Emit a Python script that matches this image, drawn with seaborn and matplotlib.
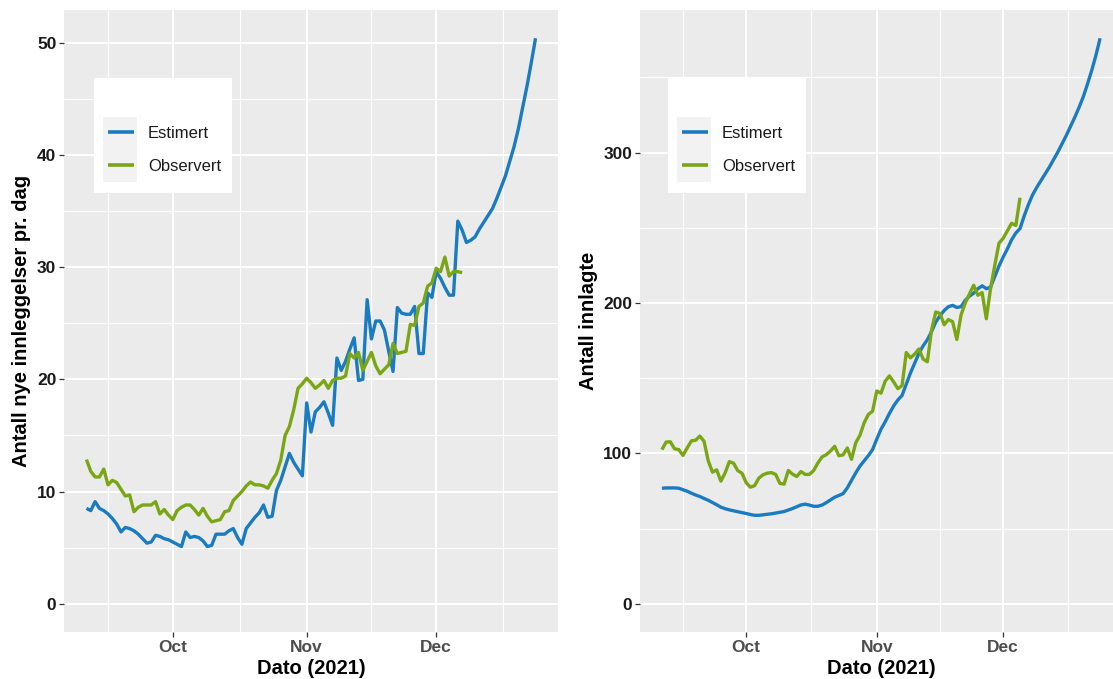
import matplotlib
matplotlib.use("Agg")
import numpy as np
import pandas as pd
import matplotlib.pyplot as plt
import matplotlib.dates as mdates
from matplotlib.patches import Rectangle
from matplotlib.ticker import FixedLocator
import seaborn as sns

# ---- data -------------------------------------------------------------
start_dato = "2021-09-11"
serier = ["Estimert", "Observert"]
farger = ["#1b7bbf", "#7aa616"]

# new hospital admissions per day
nye_estimert = [
    8.5, 8.3, 9.1, 8.5, 8.3, 8.0, 7.6, 7.1, 6.4, 6.8,
    6.7, 6.5, 6.2, 5.8, 5.4, 5.5, 6.1, 6.0, 5.8, 5.7,
    5.5, 5.3, 5.1, 6.4, 5.9, 6.0, 5.9, 5.6, 5.1, 5.2,
    6.2, 6.2, 6.2, 6.5, 6.7, 5.9, 5.3, 6.7, 7.2, 7.7,
    8.1, 8.8, 7.7, 7.8, 10.1, 11.0, 12.2, 13.4, 12.6, 12.0,
    11.4, 17.9, 15.3, 17.1, 17.5, 18.0, 17.0, 15.9, 21.9, 20.8,
    21.6, 22.7, 23.7, 19.9, 20.0, 27.1, 23.6, 25.2, 25.2, 24.4,
    22.5, 20.7, 26.4, 25.9, 25.8, 25.8, 26.5, 22.3, 22.3, 27.7,
    27.3, 29.6, 29.0, 28.2, 27.5, 27.5, 34.1, 33.3, 32.2, 32.4,
    32.7, 33.4, 34.0, 34.6, 35.2, 36.1, 37.1, 38.1, 39.4, 40.7,
    42.3, 44.2, 46.1, 48.2, 50.4,
]
nye_observert = [
    12.85, 11.8, 11.3, 11.3, 12.0, 10.6, 11.0, 10.8, 10.2, 9.6,
    9.7, 8.2, 8.6, 8.8, 8.8, 8.8, 9.1, 8.0, 8.4, 7.9,
    7.5, 8.3, 8.6, 8.8, 8.8, 8.4, 7.9, 8.5, 7.8, 7.3,
    7.4, 7.5, 8.2, 8.3, 9.2, 9.6, 10.0, 10.5, 10.85, 10.6,
    10.6, 10.5, 10.3, 11.0, 11.6, 12.8, 15.0, 15.8, 17.3, 19.2,
    19.6, 20.1, 19.7, 19.2, 19.5, 19.9, 19.2, 19.9, 20.1, 20.1,
    20.3, 22.3, 21.9, 22.4, 20.8, 21.6, 22.4, 21.2, 20.5, 20.9,
    21.3, 23.2, 22.3, 22.4, 22.5, 24.9, 24.8, 26.5, 26.8, 28.3,
    28.6, 29.9, 29.6, 30.9, 29.2, 29.6, 29.6, 29.5,
]

# patients in hospital
innlagte_estimert = [
    76.8, 77.0, 77.0, 77.0, 76.8, 75.8, 74.8, 73.5, 72.3, 71.3,
    70.0, 68.8, 67.3, 65.8, 64.2, 63.2, 62.4, 61.8, 61.2, 60.6,
    60.0, 59.3, 58.8, 58.8, 59.1, 59.5, 59.8, 60.3, 60.8, 61.3,
    62.3, 63.3, 64.5, 65.7, 66.2, 65.6, 64.8, 64.8, 65.6, 67.2,
    69.0, 70.8, 72.0, 73.2, 77.0, 82.0, 87.0, 91.5, 95.0, 98.5,
    102.5, 109.5, 116.0, 121.0, 126.5, 131.5, 135.5, 138.5, 146.0, 153.5,
    160.0, 166.5, 171.5, 175.5, 181.0, 187.3, 191.5, 195.0, 197.5, 198.4,
    197.0, 197.5, 201.8, 204.5, 206.5, 209.5, 211.4, 209.5, 210.5, 217.5,
    224.5, 230.5, 236.0, 242.0, 246.5, 249.5, 258.0, 265.5, 272.0, 277.0,
    281.5, 286.0, 290.5, 295.5, 300.5, 306.0, 311.5, 317.5, 323.5, 330.0,
    337.0, 345.5, 354.5, 364.5, 376.0,
]
innlagte_observert = [
    102.5, 107.5, 107.7, 103.0, 102.5, 98.6, 103.6, 108.3, 108.7, 111.5,
    108.0, 95.0, 87.5, 89.0, 81.5, 87.0, 94.5, 93.5, 88.5, 86.8,
    80.5, 77.5, 78.5, 83.5, 85.8, 86.8, 87.2, 86.0, 80.0, 79.5,
    88.6, 86.2, 84.6, 87.9, 86.0, 86.0, 88.5, 93.5, 97.6, 99.1,
    101.5, 104.7, 98.4, 99.0, 103.6, 96.0, 107.0, 112.0, 120.3, 125.9,
    128.0, 141.5, 140.0, 148.0, 151.5, 147.5, 143.0, 145.0, 167.0, 163.5,
    166.0, 169.4, 162.7, 160.9, 182.0, 194.0, 193.0, 185.5, 189.0, 187.5,
    175.7, 192.0, 200.0, 206.0, 211.8, 205.1, 206.9, 189.5, 209.6, 225.0,
    239.7, 243.0, 248.0, 253.0, 251.5, 270.0,
]

x_tittel = "Dato (2021)"
y_titler = ["Antall nye innleggelser pr. dag", "Antall innlagte"]
y_brudd = [np.arange(0, 51, 10), np.arange(0, 301, 100)]


def lag_tabell(estimert, observert):
    deler = []
    for navn, verdier in zip(serier, [estimert, observert]):
        datoer = pd.date_range(start_dato, periods=len(verdier), freq="D")
        deler.append(pd.DataFrame({"dato": datoer, "verdi": verdier, "serie": navn}))
    return pd.concat(deler, ignore_index=True)


tabeller = [lag_tabell(nye_estimert, nye_observert),
            lag_tabell(innlagte_estimert, innlagte_observert)]

# ---- style --------------------------------------------------------------
sns.set_theme(style="darkgrid")
plt.rcParams["font.family"] = ["Liberation Sans", "DejaVu Sans"]
plt.rcParams["axes.facecolor"] = "#EBEBEB"

W, H = 1113, 679
fig = plt.figure(figsize=(W / 100, H / 100), dpi=100)
fig.patch.set_facecolor("white")

# panel rectangles in pixels: left, top, right, bottom
paneler = [(64, 10, 558, 632), (640, 10, 1122, 632)]

for i, (df, (l, t, r, b)) in enumerate(zip(tabeller, paneler)):
    ax = fig.add_axes([l / W, 1 - b / H, (r - l) / W, (b - t) / H])
    sns.lineplot(data=df, x="dato", y="verdi", hue="serie", hue_order=serier,
                 palette=farger, linewidth=2.4, ax=ax, estimator=None)
    for ln in ax.get_lines():
        ln.set_solid_joinstyle("round")
        ln.set_solid_capstyle("butt")

    # ggplot-like expansion of 5 % on both axes
    d0 = mdates.date2num(df["dato"].min())
    d1 = mdates.date2num(df["dato"].max())
    dx = 0.05 * (d1 - d0)
    ax.set_xlim(d0 - dx, d1 + dx)
    ymax = df["verdi"].max()
    ax.set_ylim(-0.05 * ymax, ymax * 1.05)

    # axes: major month ticks, minor grid halfway
    maaneder = pd.date_range("2021-09-01", "2022-01-01", freq="MS")
    mnum = mdates.date2num(maaneder)
    ax.xaxis.set_major_locator(mdates.MonthLocator())
    ax.xaxis.set_major_formatter(mdates.DateFormatter("%b"))
    ax.xaxis.set_minor_locator(FixedLocator((mnum[:-1] + mnum[1:]) / 2))
    yb = y_brudd[i]
    ax.set_yticks(yb)
    step = yb[1] - yb[0]
    ax.yaxis.set_minor_locator(FixedLocator(np.arange(step / 2, ymax * 1.05, step)))

    ax.grid(which="major", color="white", linewidth=1.5)
    ax.grid(which="minor", color="white", linewidth=0.8)
    ax.set_axisbelow(True)
    for s in ax.spines.values():
        s.set_visible(False)

    ax.tick_params(which="major", bottom=True, left=True, length=3.5, width=0.9,
                   color="#333333", labelsize=12.5, pad=2)
    ax.tick_params(which="minor", bottom=False, left=False, length=0)
    for lab in ax.get_xticklabels():
        lab.set_fontweight("bold")
        lab.set_color("#4D4D4D")
    for lab in ax.get_yticklabels():
        lab.set_fontweight("bold")
        lab.set_color("#1A1A1A")

    ax.set_xlabel(x_tittel, fontsize=14.5, fontweight="bold", color="black", labelpad=3)
    ax.set_ylabel(y_titler[i], fontsize=14.5, fontweight="bold", color="black", labelpad=4)

    # legend: white box with grey key area, empty title line on top
    pw, ph = r - l, b - t
    boks_l = (94.3 if i == 0 else 667.7)
    boks_r = (232.3 if i == 0 else 806.0)
    key_l = (103 if i == 0 else 677)
    ax.add_patch(Rectangle(((boks_l - l) / pw, 1 - (192.7 - t) / ph),
                           (boks_r - boks_l) / pw, (192.7 - 77.7) / ph,
                           transform=ax.transAxes, facecolor="white",
                           edgecolor="none", zorder=4))
    ax.add_patch(Rectangle(((key_l - l) / pw, 1 - (182 - t) / ph),
                           34 / pw, 65 / ph,
                           transform=ax.transAxes, facecolor="#F2F2F2",
                           edgecolor="none", zorder=4.1))
    handles, labels = ax.get_legend_handles_labels()
    leg = ax.legend(handles, labels, loc="upper left",
                    bbox_to_anchor=((key_l + 5 - l) / pw, 1 - (126 - t) / ph),
                    frameon=False, fontsize=12, handlelength=1.55,
                    handletextpad=0.85, labelspacing=1.1,
                    borderpad=0, borderaxespad=0, title=None)
    for txt in leg.get_texts():
        txt.set_color("#1A1A1A")
    for lh in leg.get_lines():
        lh.set_linewidth(2.6)

fig.savefig("out.png", dpi=100)
